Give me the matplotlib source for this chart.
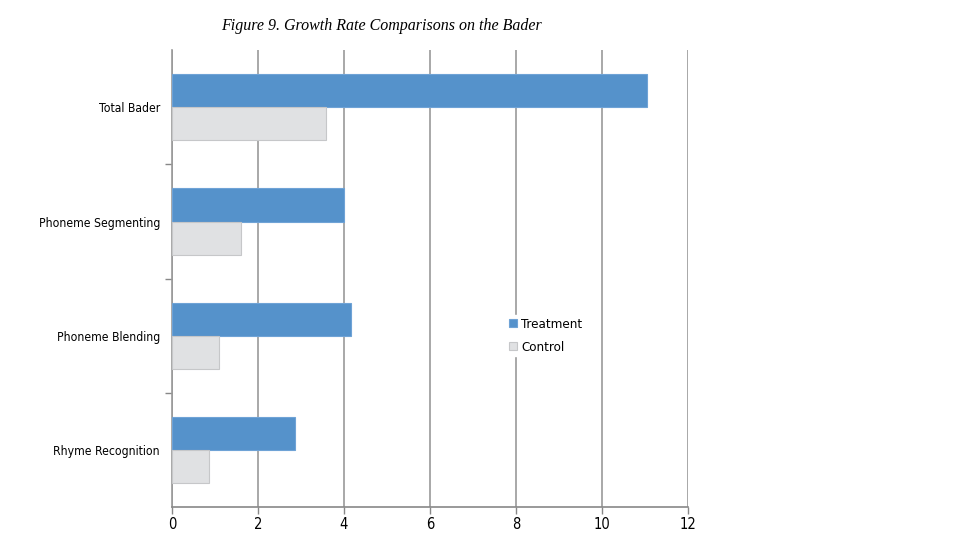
import matplotlib
matplotlib.use("Agg")
from matplotlib import pyplot as plt
import numpy as np

# Growth rate values
categories = ["Total Bader", "Phoneme Segmenting", "Phoneme Blending", "Rhyme Recognition"]
treatment = [11.05, 4.0, 4.17, 2.87]
control = [3.58, 1.6, 1.09, 0.87]
x_ticks = [0, 2, 4, 6, 8, 10, 12]

# narrow look of the original labels
plt.rcParams["font.family"] = ["DejaVu Sans"]
plt.rcParams["font.stretch"] = "condensed"

fig = plt.figure(figsize=(9.6, 5.4), dpi=100)
ax = fig.add_axes([0.179, 0.061, 0.538, 0.846])

pos = np.arange(len(categories))
h = 0.29
ax.barh(pos - h / 2, treatment, height=h, color="#5592cb", edgecolor="#6fa3d6",
        linewidth=0.8, label="Treatment", zorder=3)
ax.barh(pos + h / 2, control, height=h, color="#e0e1e3", edgecolor="#c6c7c9",
        linewidth=0.8, label="Control", zorder=3)

ax.set_xlim(0, 12)
ax.set_ylim(len(categories) - 0.5, -0.5)
ax.set_xticks(x_ticks)
ax.set_xticklabels([str(t) for t in x_ticks], fontsize=10.5)
ax.xaxis.grid(True, color="#9a9a9a", linewidth=1.2, zorder=0)

# category labels without marks, boundary marks as minor ticks
ax.set_yticks(pos)
ax.set_yticklabels(categories, fontsize=8.7)
ax.tick_params(axis="y", which="major", length=0, pad=8.5)
ax.set_yticks(pos[:-1] + 0.5, minor=True)
ax.tick_params(axis="y", which="minor", length=5, color="#888888", width=1)
ax.tick_params(axis="x", length=5, color="#888888", width=1, pad=2)

for side in ["top", "right"]:
    ax.spines[side].set_visible(False)
ax.spines["left"].set_color("#999999")
ax.spines["bottom"].set_color("#888888")
ax.spines["left"].set_linewidth(1.2)
ax.spines["bottom"].set_linewidth(1.2)

leg = ax.legend(loc="center left", bbox_to_anchor=(0.635, 0.375), frameon=True,
                fontsize=9.5, handlelength=0.6, handleheight=0.6,
                handletextpad=0.3, labelspacing=0.75, borderpad=0.2)
leg.get_frame().set_facecolor("white")
leg.get_frame().set_edgecolor("white")
leg.get_frame().set_alpha(1)

fig.text(0.397, 0.952, "Figure 9. Growth Rate Comparisons on the Bader",
         ha="center", va="center", fontsize=11.5, style="italic",
         family=["Liberation Serif", "DejaVu Serif"], stretch="normal")

fig.savefig("out.png", dpi=100, facecolor="white")
